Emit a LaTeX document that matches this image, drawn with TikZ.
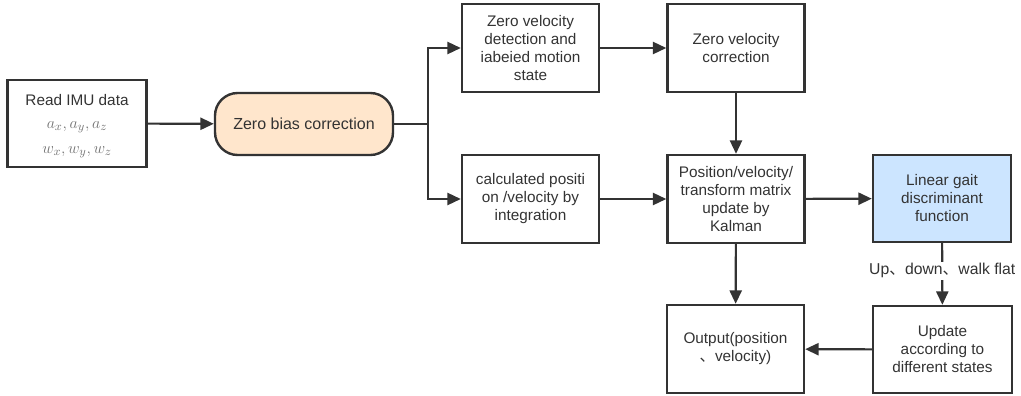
\documentclass[tikz,border=0pt]{standalone}
\usepackage{fontspec}
\setmainfont{Liberation Sans}
\newfontfamily\cjk{Noto Sans CJK SC}
\usetikzlibrary{arrows.meta}
\definecolor{ln}{HTML}{333333}
\definecolor{peach}{HTML}{FFE6CC}
\definecolor{lblue}{HTML}{CCE5FF}
\begin{document}
\begin{tikzpicture}[x=0.75pt,y=-0.75pt,
  box/.style={draw=ln, line width=1.8pt, minimum width=102.75pt, minimum height=66pt,
    align=center, text=ln, inner sep=2pt, font=\fontsize{11.5}{13.5}\selectfont},
  arr/.style={draw=ln, line width=1.6pt, -{Triangle[length=10pt,width=9pt]}},
  lbl/.style={fill=white, text=ln, inner sep=1pt, font=\fontsize{11.8}{13.5}\selectfont}]
\useasboundingbox (0,0) rectangle (1021,396);
% nodes
\node[box, minimum width=104.25pt, minimum height=65.25pt] (imu) at (77,123.5) {};
\node[text=ln, font=\fontsize{11.5}{13.5}\selectfont] (imut) at (77,100) {Read IMU data};
\node[text=black!55, font=\fontsize{13}{15}\selectfont] (imua) at (77,127) {$a_x, a_y, a_z$};
\node[text=black!55, font=\fontsize{13}{15}\selectfont] (imuw) at (77,152) {$w_x, w_y, w_z$};
\node[box, fill=peach, rounded corners=17pt, minimum width=133.5pt, minimum height=46.5pt,
  font=\fontsize{12}{14}\selectfont] (zb) at (304,124) {Zero bias correction};
\node[box] (zvd) at (530.5,48) {Zero velocity\\detection and\\iabeied motion\\state};
\node[box] (zvc) at (736,48) {Zero velocity\\correction};
\node[box] (calc) at (530.5,199) {calculated positi\\on /velocity by\\integration};
\node[box] (kal) at (736,199) {Position/velocity/\\transform matrix\\update by\\Kalman};
\node[box, fill=lblue, minimum width=103.5pt, minimum height=65.25pt] (lg) at (942,198.5) {Linear gait\\discriminant\\function};
\node[box, minimum height=66pt] (out) at (735.5,349) {Output(position\\{\cjk 、}velocity)};
\node[box, minimum width=104.25pt, minimum height=65.25pt] (upd) at (942.5,349.5) {Update\\according to\\different states};
\coordinate (br) at (428,124);
% connectors
\draw[arr] (imu) -- (zb);
\draw[draw=ln, line width=1.6pt] (zb) -- (br);
\draw[arr] (br) |- (zvd);
\draw[arr] (br) |- (calc);
\draw[arr] (zvd) -- (zvc);
\draw[arr] (zvc) -- (kal);
\draw[arr] (calc) -- (kal);
\draw[arr] (kal) -- (lg);
\draw[arr] (kal) -- (out);
\draw[arr] (lg) -- (upd) node[lbl, pos=0.45] (st) {Up{\cjk 、}down{\cjk 、}walk flat};
\draw[arr] (upd) -- (out);
\end{tikzpicture}
\end{document}
